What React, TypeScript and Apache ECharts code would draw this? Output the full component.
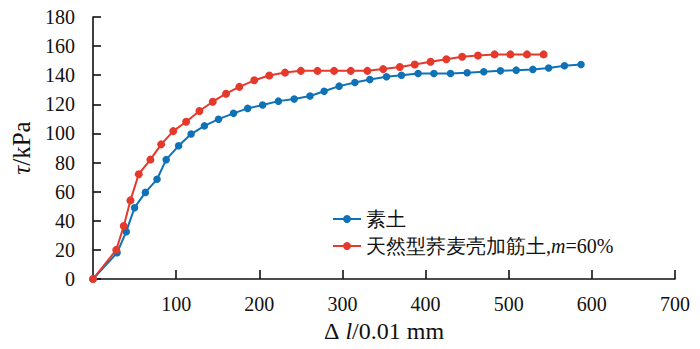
import React, { useEffect, useRef } from "react";
import * as echarts from "echarts";

const seriesNames = ["素土", "天然型荞麦壳加筋土,m=60%"];

const plainX = [0, 29, 40, 50, 63, 77, 88, 103, 118, 134, 151, 169, 186, 204, 223, 242, 261, 278, 296, 315, 333, 353, 371, 391, 410, 430, 450, 470, 490, 509, 529, 548, 567, 587];
const plainY = [0, 18, 32.5, 49, 59.5, 68.5, 82, 91.5, 99.6, 105.2, 109.8, 113.8, 117.2, 119.5, 122.2, 123.6, 125.7, 129, 132.5, 135, 137, 139, 140, 141.2, 141.2, 141.2, 141.7, 142.4, 143, 143.5, 144, 145, 146.5, 147.4];

const reinfX = [0, 28, 37, 45, 55, 69, 82, 96.5, 112, 128, 144, 160, 176, 194, 212, 231, 250, 270, 290, 310, 330, 349, 369, 387, 406, 425, 444, 463, 483, 502, 522, 542];
const reinfY = [0, 20, 36.4, 54, 72, 82, 92.5, 101.6, 108, 115.4, 121.8, 127.3, 132, 136.5, 139.8, 141.8, 143, 143, 143, 143, 143, 144.2, 145.6, 147.4, 149.2, 151, 152.7, 153.6, 154.3, 154.3, 154.3, 154.3];

const xTicks = { min: 0, max: 700, interval: 100 };
const yTicks = { min: 0, max: 180, interval: 20 };

const SERIF = "Liberation Serif";

export default function App() {
  const ref = useRef<HTMLDivElement>(null);
  useEffect(() => {
    document.body.style.margin = "0";
    if (!ref.current) return;
    const chart = echarts.init(ref.current, null, { renderer: "svg" });
    const zip = (xs: number[], ys: number[]) => xs.map((x, i) => [x, ys[i]]);
    chart.setOption({
      animation: false,
      backgroundColor: "#ffffff",
      grid: { left: 93, right: 25, top: 17, bottom: 70 },
      legend: {
        orient: "vertical",
        left: 327,
        top: 202,
        itemWidth: 28,
        itemHeight: 10,
        itemGap: 3,
        data: seriesNames,
        formatter: (name: string) =>
          name.indexOf(",m=") >= 0 ? name.replace(",m=", ",{i|m}=") : name,
        textStyle: {
          fontFamily: SERIF,
          fontSize: 20,
          color: "#111",
          lineHeight: 24,
          rich: {
            i: { fontFamily: SERIF, fontStyle: "italic", fontSize: 20, color: "#111" },
          },
        },
      },
      xAxis: {
        type: "value",
        min: xTicks.min,
        max: xTicks.max,
        interval: xTicks.interval,
        name: "{d|Δ} {i|l}/0.01 mm",
        nameLocation: "middle",
        nameGap: 40,
        nameTextStyle: {
          fontFamily: SERIF,
          fontSize: 24,
          color: "#111",
          rich: {
            d: { fontFamily: SERIF, fontSize: 24, color: "#111" },
            i: { fontFamily: SERIF, fontSize: 24, fontStyle: "italic", color: "#111" },
          },
        },
        axisLine: { lineStyle: { color: "#111", width: 1.6 } },
        axisTick: { inside: true, length: 9, lineStyle: { color: "#111", width: 1.6 } },
        axisLabel: {
          margin: 15,
          fontFamily: SERIF,
          fontSize: 20,
          color: "#111",
          showMinLabel: false,
        },
        splitLine: { show: false },
      },
      yAxis: {
        type: "value",
        min: yTicks.min,
        max: yTicks.max,
        interval: yTicks.interval,
        name: "{i|τ}/kPa",
        nameLocation: "middle",
        nameGap: 44,
        nameRotate: 90,
        nameTextStyle: {
          fontFamily: SERIF,
          fontSize: 25,
          color: "#111",
          rich: {
            i: { fontFamily: SERIF, fontSize: 25, fontStyle: "italic", color: "#111" },
          },
        },
        axisLine: { show: true, lineStyle: { color: "#111", width: 1.6 } },
        axisTick: { show: true, inside: true, length: 8, lineStyle: { color: "#111", width: 1.6 } },
        axisLabel: { margin: 18, fontFamily: SERIF, fontSize: 20, color: "#111" },
        splitLine: { show: false },
      },
      series: [
        {
          name: seriesNames[0],
          type: "line",
          data: zip(plainX, plainY),
          symbol: "circle",
          symbolSize: 7.5,
          color: "#0f72b6",
          lineStyle: { width: 2, color: "#0f72b6" },
          itemStyle: { color: "#0f72b6" },
          z: 2,
        },
        {
          name: seriesNames[1],
          type: "line",
          data: zip(reinfX, reinfY),
          symbol: "circle",
          symbolSize: 8,
          color: "#e5392c",
          lineStyle: { width: 2, color: "#e5392c" },
          itemStyle: { color: "#e5392c" },
          z: 3,
        },
      ],
    });
    return () => chart.dispose();
  }, []);
  return <div ref={ref} style={{ width: 700, height: 349 }} />;
}
